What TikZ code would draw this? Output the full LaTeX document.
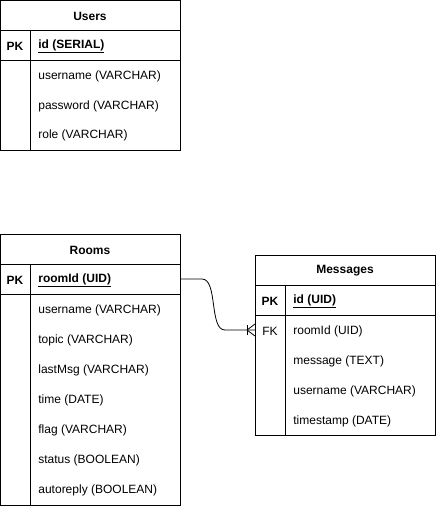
\documentclass[tikz,border=0pt]{standalone}
\usepackage{fontspec}
\setmainfont{Liberation Sans}
\begin{document}
\begin{tikzpicture}[x=1pt,y=-1pt,line width=0.8pt,
		every node/.style={font=\fontsize{12}{14}\selectfont,inner sep=0pt},
		title/.style={font=\fontsize{12}{14}\selectfont\bfseries},
		keyname/.style={font=\fontsize{12}{14}\selectfont\bfseries},
		field/.style={anchor=west}]
		\useasboundingbox (0,0) rectangle (437,506);
		% Users
		\draw (0.5,0.5) rectangle (180,150);
		\draw (0.5,30)--(180,30);
		\draw (0.5,60)--(180,60);
		\draw (30,30)--(30,150);
		\node[title] (users) at (90,16) {Users};
		\node[keyname] (usersPK) at (15,46) {PK};
		\node[field,keyname] (usersId) at (38,46) {\underline{id (SERIAL)}};
		\node[field] (usersName) at (38,76) {username (VARCHAR)};
		\node[field] (usersPass) at (38,106) {password (VARCHAR)};
		\node[field] (usersRole) at (38,135) {role (VARCHAR)};
		% Rooms
		\draw (0.5,234) rectangle (180,505.5);
		\draw (0.5,264)--(180,264);
		\draw (0.5,294)--(180,294);
		\draw (30,264)--(30,505.5);
		\node[title] (rooms) at (90,250) {Rooms};
		\node[keyname] (roomsPK) at (15,280) {PK};
		\node[field,keyname] (roomsId) at (38,280) {\underline{roomId (UID)}};
		\node[field] (roomsName) at (38,310) {username (VARCHAR)};
		\node[field] (roomsTopic) at (38,340) {topic (VARCHAR)};
		\node[field] (roomsLast) at (38,370) {lastMsg (VARCHAR)};
		\node[field] (roomsTime) at (38,400) {time (DATE)};
		\node[field] (roomsFlag) at (38,430) {flag (VARCHAR)};
		\node[field] (roomsStatus) at (38,460) {status (BOOLEAN)};
		\node[field] (roomsAuto) at (38,490) {autoreply (BOOLEAN)};
		\coordinate (roomsKey) at (180,279);
		% Messages
		\draw (255,255) rectangle (435,435);
		\draw (255,285)--(435,285);
		\draw (255,315)--(435,315);
		\draw (285,285)--(285,435);
		\node[title] (msgs) at (345,271) {Messages};
		\node[keyname] (msgsPK) at (270,301) {PK};
		\node[field,keyname] (msgsId) at (293,301) {\underline{id (UID)}};
		\node (msgsFK) at (270,331) {FK};
		\node[field] (msgsRoom) at (293,331) {roomId (UID)};
		\node[field] (msgsText) at (293,361) {message (TEXT)};
		\node[field] (msgsName) at (293,391) {username (VARCHAR)};
		\node[field] (msgsStamp) at (293,421) {timestamp (DATE)};
		\coordinate (msgsKey) at (255,330);
		% relation
		\draw (roomsKey) -- ++(22,0) .. controls +(16,0) and +(-16,0) .. ([xshift=-30]msgsKey) -- (msgsKey);
		\draw ([xshift=-8,yshift=-5]msgsKey) -- ([xshift=-8,yshift=5]msgsKey);
		\draw ([xshift=-8]msgsKey) -- ([yshift=-6]msgsKey);
		\draw ([xshift=-8]msgsKey) -- ([yshift=6]msgsKey);
	\end{tikzpicture}
\end{document}
